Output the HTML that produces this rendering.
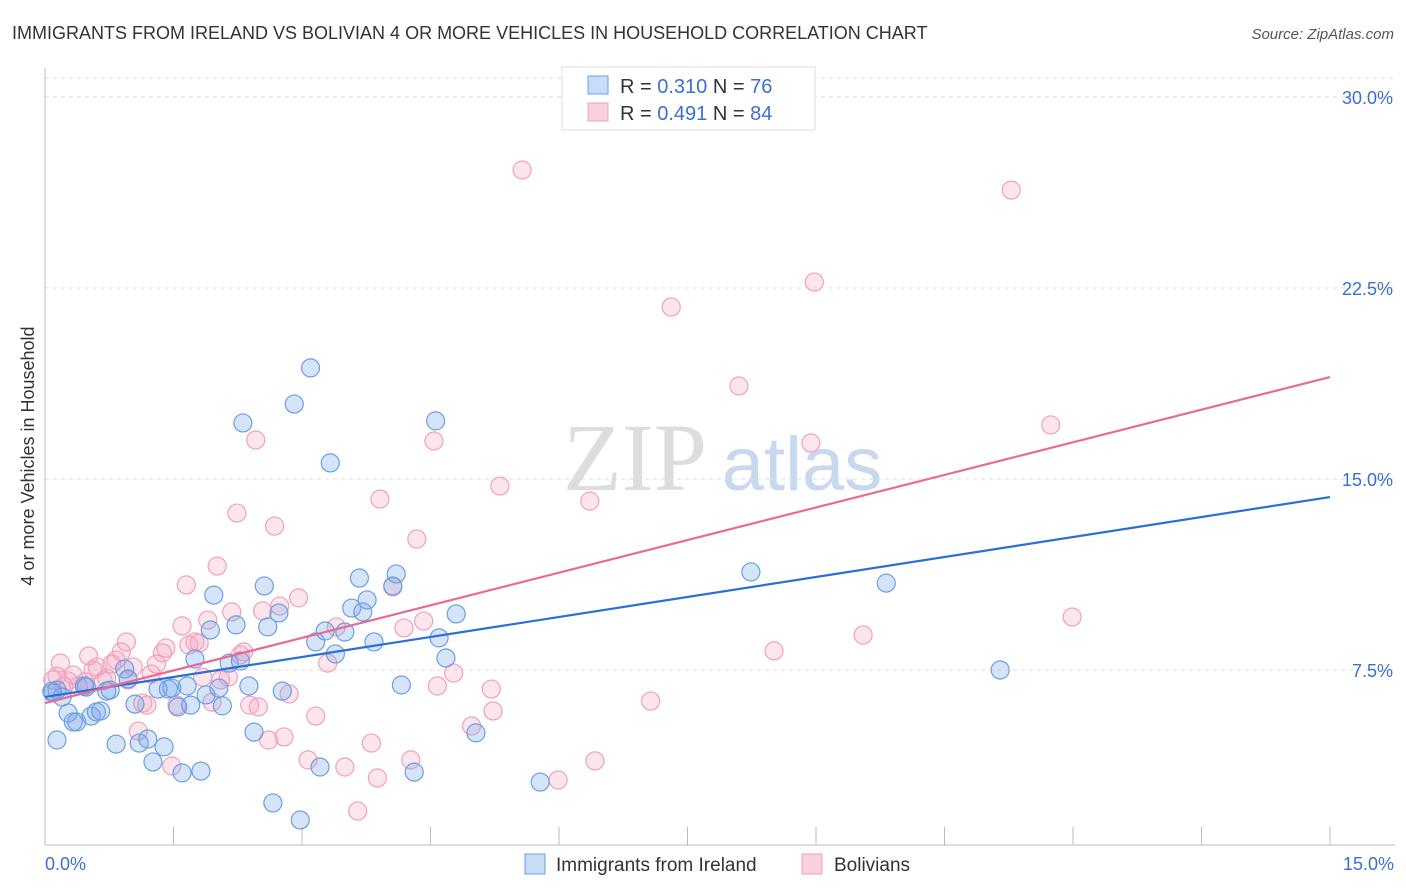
<!DOCTYPE html>
<html><head><meta charset="utf-8">
<style>
body{margin:0;background:#fff;font-family:"Liberation Sans",sans-serif;}
svg{display:block}
</style></head>
<body>
<svg id="chart" width="1406" height="892" viewBox="0 0 1406 892" xmlns="http://www.w3.org/2000/svg">
<text x="12" y="39" font-size="18" fill="#333">IMMIGRANTS FROM IRELAND VS BOLIVIAN 4 OR MORE VEHICLES IN HOUSEHOLD CORRELATION CHART</text>
<text x="1394" y="39" font-size="15" fill="#555" text-anchor="end" font-style="italic">Source: ZipAtlas.com</text>
<g>
<text x="635" y="490" font-size="96" fill="#ddd" text-anchor="middle" font-family="Liberation Serif,serif">ZIP</text>
<text x="802" y="490" font-size="76" fill="#c8d8ee" text-anchor="middle">atlas</text>
</g>
<g id="grid"></g>
<g id="axes"></g>
<g id="series"></g>
<text transform="translate(34,456) rotate(-90)" font-size="18" fill="#333" text-anchor="middle">4 or more Vehicles in Household</text>
<g>
<rect x="562" y="67" width="253" height="63" fill="#fff" stroke="#ddd"/>
<rect x="588" y="76" width="20" height="18" fill="#c6dcf7" stroke="#6a9fe0"/>
<rect x="588" y="103" width="20" height="18" fill="#f9d0dd" stroke="#f0a0bc"/>
<text x="620" y="93" font-size="20" fill="#333">R = <tspan fill="#3b6fd0">0.310</tspan>   N = <tspan fill="#3b6fd0">76</tspan></text>
<text x="620" y="120" font-size="20" fill="#333">R = <tspan fill="#3b6fd0">0.491</tspan>   N = <tspan fill="#3b6fd0">84</tspan></text>
</g>
<g>
<rect x="525" y="854" width="20" height="20" fill="#c6dcf7" stroke="#6a9fe0"/>
<text x="556" y="871" font-size="19" fill="#333">Immigrants from Ireland</text>
<rect x="802" y="854" width="20" height="20" fill="#f9d0dd" stroke="#f0a0bc"/>
<text x="834" y="871" font-size="19" fill="#333">Bolivians</text>
</g>
</svg>
<script>
const yTicks=[7.5,15,22.5,30];
const yTickLabels=["7.5%","15.0%","22.5%","30.0%"];
const xTicks=[0,1.5,3,4.5,6,7.5,9,10.5,12,13.5,15];
const xTickLabels=["0.0%","15.0%"];
const irelandX=[0.14,0.09,0.20,0.27,0.33,0.37,0.46,0.48,0.54,0.60,0.65,0.72,0.76,0.83,0.93,0.97,1.05,1.10,1.20,1.26,1.32,1.39,1.44,1.48,1.55,1.60,1.66,1.70,1.75,1.82,1.88,1.93,1.97,2.03,2.07,2.15,2.23,2.28,2.31,2.38,2.44,2.56,2.60,2.66,2.73,2.77,2.91,2.98,3.10,3.16,3.21,3.27,3.33,3.39,3.50,3.58,3.67,3.71,3.76,3.84,4.06,4.10,4.16,4.31,4.56,4.60,4.68,4.80,5.03,5.78,8.24,9.82,11.15,0.08,0.14];
const irelandY=[6.71,6.60,6.44,5.81,5.46,5.46,6.87,6.83,5.69,5.85,5.89,6.67,6.71,4.59,7.54,7.15,6.16,4.63,4.79,3.89,6.75,4.48,6.75,6.79,6.05,3.46,6.87,6.12,7.93,3.53,6.52,9.07,10.44,6.79,6.09,7.77,9.27,7.85,17.20,6.87,5.06,10.80,9.19,2.28,9.74,6.67,17.94,1.61,19.36,8.60,3.69,9.03,15.63,8.13,8.99,9.93,11.11,9.78,10.25,8.60,10.80,11.27,6.91,3.49,17.28,8.76,7.97,9.70,5.03,3.10,11.35,10.91,7.50,6.67,4.75];
const bolivX=[0.09,0.14,0.18,0.22,0.27,0.33,0.39,0.47,0.51,0.56,0.61,0.68,0.72,0.78,0.83,0.89,0.95,0.97,1.03,1.09,1.14,1.19,1.24,1.30,1.37,1.41,1.48,1.54,1.60,1.65,1.68,1.75,1.80,1.84,1.90,1.95,2.01,2.05,2.14,2.18,2.24,2.28,2.32,2.39,2.46,2.49,2.54,2.61,2.68,2.74,2.79,2.85,2.96,3.07,3.16,3.30,3.40,3.50,3.65,3.81,3.88,3.91,4.06,4.19,4.27,4.34,4.42,4.54,4.58,4.77,4.98,5.21,5.23,5.31,5.57,5.99,6.36,6.42,7.07,7.31,8.10,8.51,8.94,8.98,9.55,11.28,11.74,11.99];
const bolivY=[7.11,7.26,7.77,6.87,7.07,7.30,6.87,7.03,8.05,7.50,7.62,7.07,7.18,7.73,7.89,8.21,8.60,7.11,7.62,5.10,6.20,6.12,7.34,7.73,8.17,8.36,3.73,6.12,9.23,10.84,8.48,8.60,8.56,7.22,9.46,6.24,11.58,7.11,7.22,9.78,13.66,8.09,8.21,6.12,16.53,6.05,9.82,4.75,13.15,10.01,4.87,6.56,10.33,3.97,5.69,7.77,9.19,3.69,1.96,4.63,3.26,14.21,10.76,9.15,3.97,12.64,9.42,16.49,6.87,7.38,5.30,6.75,5.89,14.72,27.13,3.18,14.13,3.93,6.28,21.75,18.65,8.25,16.41,22.73,8.87,26.34,17.12,9.58];
const trendX=[0,15];
const irelandTrend=[6.44,14.29];
const bolivTrend=[6.2,19.0];

const NS="http://www.w3.org/2000/svg";
const X0=45,X1=1330,Y0=861,PXY=25.47;
function sx(v){return X0+(v/15)*(X1-X0);}
function sy(v){return Y0-v*PXY;}
function mk(tag,attrs,parent){const e=document.createElementNS(NS,tag);for(const k in attrs)e.setAttribute(k,attrs[k]);parent.appendChild(e);return e;}
const grid=document.getElementById('grid'),axes=document.getElementById('axes'),series=document.getElementById('series');
mk('line',{x1:45,x2:1395,y1:78,y2:78,stroke:'#ddd','stroke-dasharray':'4,4'},grid);
yTicks.forEach((t,i)=>{
  const l=mk('line',{x1:45,x2:1395,y1:sy(t),y2:sy(t),stroke:'#ddd','stroke-dasharray':'4,4'},grid);
  
  
  const tx=mk('text',{x:1393,y:sy(t)+7,'font-size':18,fill:'#3b6fd0','text-anchor':'end'},axes);
  tx.textContent=yTickLabels[i];
  
  
});
mk('line',{x1:45,x2:45,y1:68,y2:845,stroke:'#bbb'},axes);
mk('line',{x1:45,x2:1395,y1:845,y2:845,stroke:'#bbb'},axes);
xTicks.forEach(t=>{
  const l=mk('line',{x1:sx(t),x2:sx(t),y1:827,y2:845,stroke:'#bbb'},axes);
  
  
});
const xl0=mk('text',{x:45,y:870,'font-size':18,fill:'#3b6fd0'},axes);xl0.textContent=xTickLabels[0];


const xl1=mk('text',{x:1394,y:870,'font-size':18,fill:'#3b6fd0','text-anchor':'end'},axes);xl1.textContent=xTickLabels[1];



bolivX.forEach((v,i)=>{
  const c=mk('circle',{cx:sx(v),cy:sy(bolivY[i]),r:9,fill:'rgba(244,160,190,0.28)',stroke:'#f0a0bc','stroke-width':1.2},series);
  
  
});
irelandX.forEach((v,i)=>{
  const c=mk('circle',{cx:sx(v),cy:sy(irelandY[i]),r:9,fill:'rgba(120,165,235,0.3)',stroke:'#6a9fe0','stroke-width':1.2},series);
  
  
});
const tb=mk('line',{x1:sx(trendX[0]),y1:sy(irelandTrend[0]),x2:sx(trendX[1]),y2:sy(irelandTrend[1]),stroke:'#2a6fd6','stroke-width':2.2},series);


const tp=mk('line',{x1:sx(trendX[0]),y1:sy(bolivTrend[0]),x2:sx(trendX[1]),y2:sy(bolivTrend[1]),stroke:'#e86a95','stroke-width':2.2},series);


</script>
</body></html>
